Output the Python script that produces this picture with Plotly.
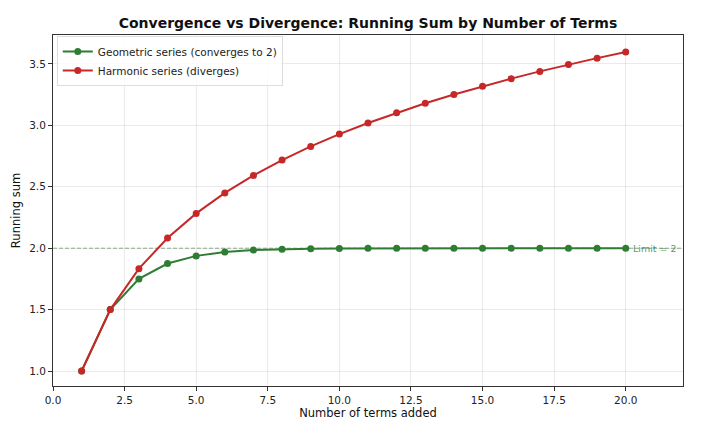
import plotly.graph_objects as go

terms = list(range(1, 21))
geometric = [1.0, 1.5, 1.75, 1.875, 1.9375, 1.96875, 1.984375, 1.9921875, 1.99609375,
             1.998046875, 1.9990234, 1.9995117, 1.9997559, 1.9998779, 1.9999390,
             1.9999695, 1.9999847, 1.9999924, 1.9999962, 1.9999981]
harmonic = [1.0, 1.5, 1.8333, 2.0833, 2.2833, 2.45, 2.5929, 2.7179, 2.829, 2.929,
            3.0199, 3.1032, 3.1801, 3.2516, 3.3182, 3.3807, 3.4396, 3.4951, 3.5477, 3.5977]
limit_value = 2.0
green = "#2e7d32"
red = "#c62828"

fig = go.Figure()
fig.add_trace(go.Scatter(x=terms, y=geometric, mode="lines+markers",
                         name="Geometric series (converges to 2)",
                         line=dict(color=green, width=2), marker=dict(size=7, color=green)))
fig.add_trace(go.Scatter(x=terms, y=harmonic, mode="lines+markers",
                         name="Harmonic series (diverges)",
                         line=dict(color=red, width=2), marker=dict(size=7, color=red)))

fig.add_shape(type="line", xref="paper", x0=0, x1=1, yref="y", y0=limit_value, y1=limit_value,
              line=dict(color="rgba(46,125,50,0.55)", width=1, dash="4px,2px"), layer="below")
fig.add_annotation(x=20.2, y=limit_value, text="Limit = 2", showarrow=False, xanchor="left",
                   font=dict(size=9.5, color="rgba(46,125,50,0.8)"))

axis_common = dict(showline=True, linecolor="#333", linewidth=1, mirror=True,
                   showgrid=True, gridcolor="rgba(0,0,0,0.08)", gridwidth=1,
                   ticks="outside", ticklen=4, tickcolor="#333", zeroline=False,
                   automargin=False, tickfont=dict(size=10.5, color="#222"))
fig.update_xaxes(range=[0, 22], tickmode="array",
                 tickvals=[0, 2.5, 5, 7.5, 10, 12.5, 15, 17.5, 20],
                 ticktext=["0.0", "2.5", "5.0", "7.5", "10.0", "12.5", "15.0", "17.5", "20.0"],
                 title=dict(text="Number of terms added", font=dict(size=11.5, color="#111"), standoff=4),
                 **axis_common)
fig.update_yaxes(range=[0.878, 3.736], tickmode="array",
                 tickvals=[1.0, 1.5, 2.0, 2.5, 3.0, 3.5],
                 ticktext=["1.0", "1.5", "2.0", "2.5", "3.0", "3.5"],
                 title=dict(text="Running sum", font=dict(size=11.5, color="#111"), standoff=6),
                 **axis_common)

fig.update_layout(
    width=693, height=430,
    margin=dict(l=45, r=18, t=27, b=52),
    paper_bgcolor="white", plot_bgcolor="white",
    font=dict(family="DejaVu Sans", color="#222"),
    title=dict(text="<b>Convergence vs Divergence: Running Sum by Number of Terms</b>",
               x=(360 / 693), xanchor="center", y=(430 - 15) / 430, yanchor="middle",
               font=dict(size=14, color="#111")),
    legend=dict(x=0.006, y=0.997, xanchor="left", yanchor="top",
                bgcolor="rgba(255,255,255,0.8)", bordercolor="#ddd", borderwidth=1,
                font=dict(size=10.5), tracegroupgap=0, itemwidth=30),
    showlegend=True,
)

fig.write_html("out.html")
